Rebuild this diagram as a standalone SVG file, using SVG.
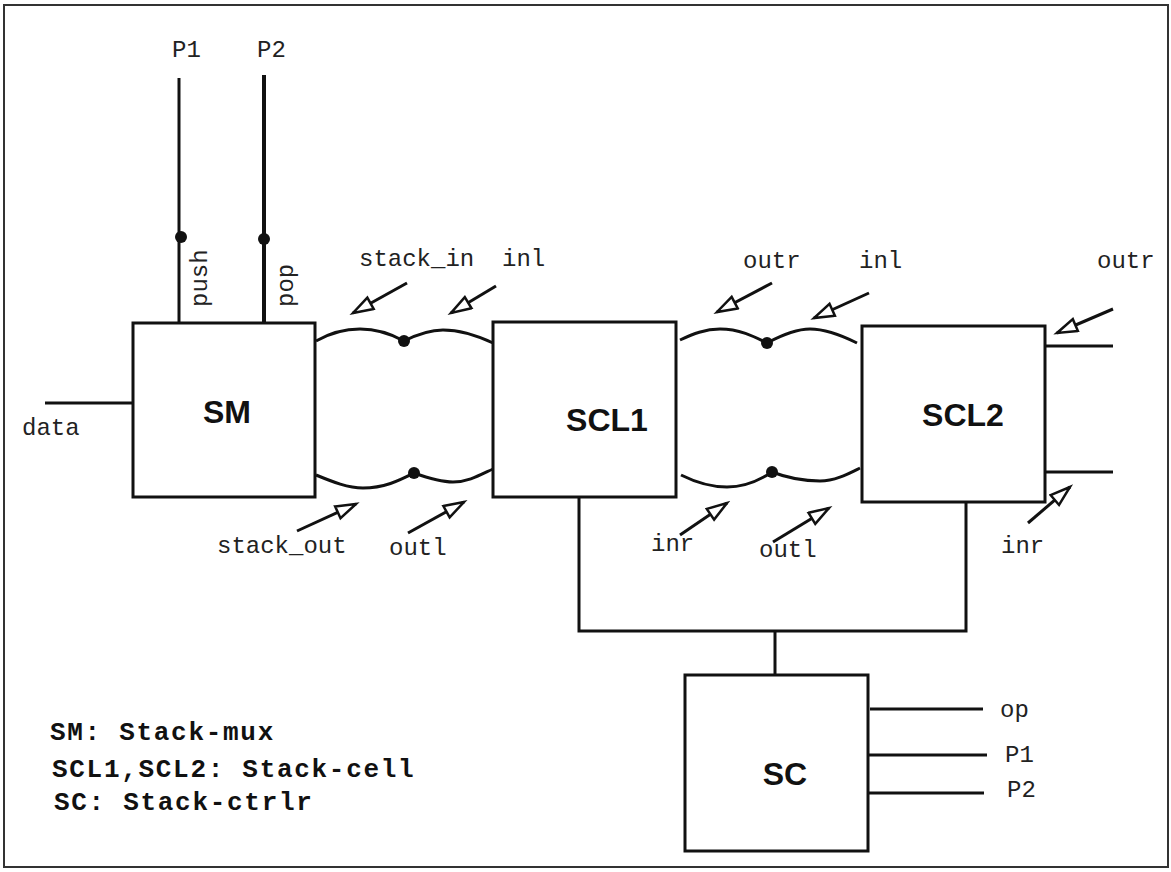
<svg xmlns="http://www.w3.org/2000/svg" width="1171" height="872" viewBox="0 0 1171 872">
<style>
.box{fill:#fff;stroke:#111;stroke-width:3}
.w{fill:none;stroke:#111;stroke-width:3}
.lbl{font-family:"Liberation Mono","Courier New",monospace;font-size:24px;fill:#222}
.big{font-family:"Liberation Sans",Arial,sans-serif;font-size:32px;font-weight:bold;fill:#111;text-anchor:middle}
.leg{font-family:"Liberation Mono","Courier New",monospace;font-size:26px;font-weight:bold;fill:#111;letter-spacing:1.7px}
.dot{fill:#111}
.arr{fill:none;stroke:#111;stroke-width:3;marker-end:url(#oa)}
</style>
<defs>
<marker id="oa" markerUnits="userSpaceOnUse" markerWidth="26" markerHeight="18" refX="22" refY="8" orient="auto">
<path d="M2,1.5 L22,8 L2,14.5 Z" fill="#fff" stroke="#111" stroke-width="2.5" stroke-linejoin="miter"/>
</marker>
</defs>
<rect x="4" y="5" width="1164" height="862" fill="#fff" stroke="#333" stroke-width="2"/>

<g id="connectors">
<line class="w" x1="179" y1="78" x2="179" y2="322"/>
<line class="w" x1="264" y1="75" x2="264" y2="322" style="stroke-width:4"/>
<circle class="dot" cx="181" cy="237" r="6"/>
<circle class="dot" cx="264" cy="239" r="6"/>
<line class="w" x1="45" y1="403" x2="133" y2="403"/>
<path class="w" d="M316,341 C330,333 345,329 360,329 C380,329 395,336 404,341 C414,336 428,330 443,330 C460,330 478,336 493,343"/>
<path class="w" d="M316,475 C333,482 348,488 363,488 C385,488 400,480 414,473 C428,478 440,482 453,482 C468,482 480,475 493,469"/>
<circle class="dot" cx="404" cy="341" r="6"/>
<circle class="dot" cx="414" cy="473" r="6"/>
<path class="w" d="M680,340 C693,334 705,329 720,329 C740,329 755,337 767,343 C780,336 795,329 810,329 C828,329 845,337 857,343"/>
<path class="w" d="M681,475 C695,482 710,487 727,487 C745,487 760,480 772,472 C785,477 803,481 820,481 C835,481 848,474 860,468"/>
<circle class="dot" cx="767" cy="343" r="6"/>
<circle class="dot" cx="772" cy="472" r="6"/>
<line class="w" x1="1045" y1="346" x2="1113" y2="346"/>
<line class="w" x1="1045" y1="472" x2="1113" y2="472"/>
<polyline class="w" points="579,497 579,631 966,631 966,502"/>
<line class="w" x1="775" y1="631" x2="775" y2="675"/>
<line class="w" x1="870" y1="709" x2="983" y2="709"/>
<line class="w" x1="868" y1="755" x2="987" y2="755"/>
<line class="w" x1="868" y1="793" x2="984" y2="793"/>
<line class="arr" x1="407" y1="283" x2="353" y2="313"/>
<line class="arr" x1="496" y1="286" x2="451" y2="313"/>
<line class="arr" x1="297" y1="531" x2="356" y2="504"/>
<line class="arr" x1="408" y1="533" x2="464" y2="502"/>
<line class="arr" x1="772" y1="283" x2="717" y2="312"/>
<line class="arr" x1="869" y1="293" x2="814" y2="318"/>
<line class="arr" x1="680" y1="535" x2="727" y2="503"/>
<line class="arr" x1="773" y1="542" x2="829" y2="508"/>
<line class="arr" x1="1113" y1="309" x2="1057" y2="333"/>
<line class="arr" x1="1028" y1="523" x2="1070" y2="487"/>
</g>

<g id="labels">
<text class="lbl" x="172" y="57">P1</text>
<text class="lbl" x="257" y="57">P2</text>
<text class="lbl" transform="translate(207,307) rotate(-90)">push</text>
<text class="lbl" transform="translate(293,307) rotate(-90)">pop</text>
<text class="lbl" x="22" y="435">data</text>
<text class="lbl" x="359" y="266">stack_in</text>
<text class="lbl" x="502" y="266">inl</text>
<text class="lbl" x="217" y="553">stack_out</text>
<text class="lbl" x="389" y="555">outl</text>
<text class="lbl" x="743" y="268">outr</text>
<text class="lbl" x="859" y="268">inl</text>
<text class="lbl" x="651" y="551">inr</text>
<text class="lbl" x="759" y="557">outl</text>
<text class="lbl" x="1097" y="268">outr</text>
<text class="lbl" x="1001" y="553">inr</text>
<text class="lbl" x="1000" y="717">op</text>
<text class="lbl" x="1005" y="762">P1</text>
<text class="lbl" x="1007" y="797">P2</text>
</g>

<g id="SM">
<rect class="box" x="133" y="323" width="182" height="174"/>
<text class="big" x="227" y="423">SM</text>
</g>
<g id="SCL1">
<rect class="box" x="493" y="322" width="183" height="175"/>
<text class="big" x="607" y="431">SCL1</text>
</g>
<g id="SCL2">
<rect class="box" x="862" y="326" width="183" height="176"/>
<text class="big" x="963" y="426">SCL2</text>
</g>
<g id="SC">
<rect class="box" x="685" y="675" width="183" height="176"/>
<text class="big" x="785" y="785">SC</text>
</g>

<g id="legend">
<text class="leg" x="50" y="740">SM: Stack-mux</text>
<text class="leg" x="52" y="777">SCL1,SCL2: Stack-cell</text>
<text class="leg" x="54" y="810">SC: Stack-ctrlr</text>
</g>
</svg>
